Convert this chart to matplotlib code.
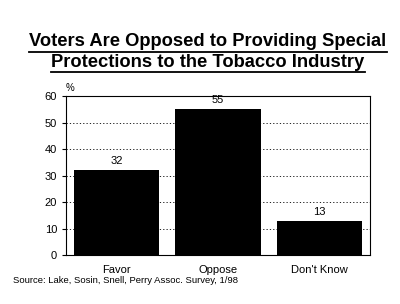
import matplotlib.pyplot as plt

categories = ['Favor', 'Oppose', "Don't Know"]
values = [32, 55, 13]

plt.rcParams['font.family'] = ['Liberation Sans', 'DejaVu Sans']

fig = plt.figure(figsize=(4, 3.04), dpi=100)
ax = fig.add_axes([0.165, 0.161, 0.76, 0.523])

x = range(len(categories))
bars = ax.bar(x, values, width=0.84, color='black', zorder=3)
for i, v in zip(x, values):
    ax.text(i, v + 1.5, str(v), ha='center', va='bottom', fontsize=8)

ax.set_ylim(0, 60)
ax.set_xlim(-0.5, 2.5)
ax.set_yticks(range(0, 61, 10))
ax.set_xticks(list(x))
ax.set_xticklabels(categories, fontsize=8)
ax.tick_params(axis='y', labelsize=8, length=3, direction='out')
ax.tick_params(axis='x', length=0, pad=7)
ax.yaxis.grid(True, linestyle=(0, (1.5, 2.5)), color='black', linewidth=0.6)
for s in ax.spines.values():
    s.set_linewidth(0.8)
ax.text(0.0, 1.03, '%', transform=ax.transAxes, fontsize=7)

t1 = fig.text(0.52, 0.862, 'Voters Are Opposed to Providing Special',
              ha='center', va='center', fontsize=13.2, fontweight='bold')
t2 = fig.text(0.52, 0.796, 'Protections to the Tobacco Industry',
              ha='center', va='center', fontsize=13.2, fontweight='bold')

fig.canvas.draw()
r = fig.canvas.get_renderer()
for t in (t1, t2):
    bb = t.get_window_extent(r).transformed(fig.transFigure.inverted())
    fig.add_artist(plt.Line2D([bb.x0, bb.x1], [bb.y0 - 0.004, bb.y0 - 0.004],
                              transform=fig.transFigure, color='black', linewidth=1.3))

fig.text(0.033, 0.068, 'Source: Lake, Sosin, Snell, Perry Assoc. Survey, 1/98', fontsize=6.8)

fig.savefig('out.png', dpi=100)
